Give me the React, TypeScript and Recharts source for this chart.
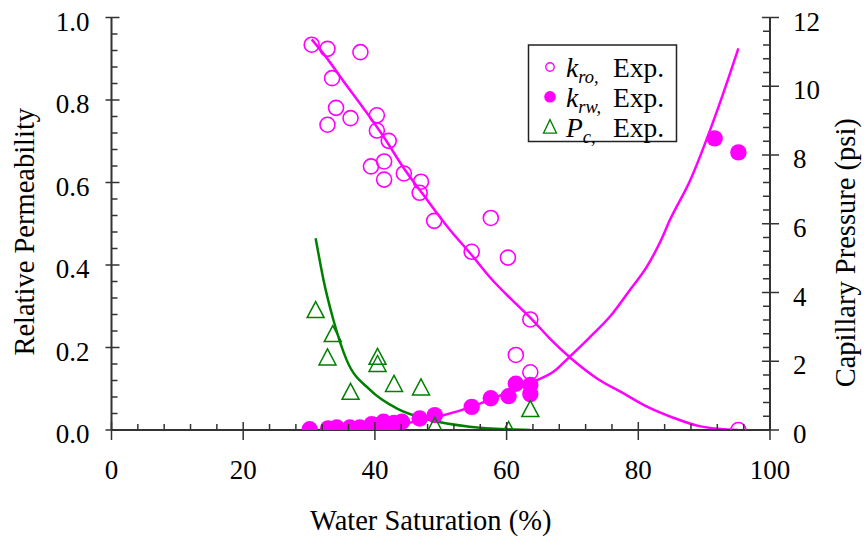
import { ComposedChart, Scatter, Line, XAxis, YAxis } from 'recharts';

const MAGENTA = '#ff00ff';
const GREEN = '#008000';
const AXIS = '#333333';
const FONT = '"Liberation Serif", "Times New Roman", serif';

// kro, experimental (open circles)
const KRO_SW = [30.4, 32.8, 37.8, 33.5, 34.1, 36.3, 32.8, 40.3, 40.3, 42.1, 41.4, 39.4, 41.4, 44.4, 47.0, 46.8, 49.0, 54.7, 57.6, 60.2, 63.6, 61.4, 63.6, 95.2];
const KRO_EXP = [0.934, 0.924, 0.916, 0.853, 0.781, 0.756, 0.740, 0.763, 0.726, 0.701, 0.651, 0.639, 0.607, 0.622, 0.602, 0.575, 0.507, 0.432, 0.514, 0.418, 0.268, 0.182, 0.140, 0.0];

// krw, experimental (filled circles)
const KRW_SW = [30.1, 32.9, 34.2, 36.2, 37.7, 39.5, 40.6, 41.3, 42.6, 42.9, 44.1, 46.8, 49.1, 54.7, 57.6, 60.3, 61.4, 63.6, 63.6, 91.6, 95.2];
const KRW_EXP = [0.002, 0.004, 0.006, 0.006, 0.006, 0.014, 0.012, 0.020, 0.012, 0.017, 0.020, 0.028, 0.036, 0.056, 0.077, 0.082, 0.112, 0.109, 0.087, 0.707, 0.673];

// Pc, experimental (triangles, psi)
const PC_SW = [31.0, 33.6, 32.8, 40.4, 40.4, 36.3, 42.9, 47.0, 49.1, 60.3, 63.6];
const PC_EXP = [3.49, 2.79, 2.11, 2.13, 1.92, 1.11, 1.34, 1.24, 0.12, 0.0, 0.61];

// fitted curves
const KRO_FIT_SW = [30.4, 32.3, 35.4, 38.4, 41.4, 44.5, 47.5, 51.1, 54.6, 57.7, 60.7, 63.8, 66.8, 69.9, 73.9, 77.5, 81.0, 85.1, 89.1, 92.0, 95.2];
const KRO_FIT = [0.947, 0.910, 0.842, 0.777, 0.709, 0.632, 0.567, 0.491, 0.426, 0.366, 0.317, 0.269, 0.218, 0.172, 0.123, 0.091, 0.059, 0.031, 0.010, 0.003, 0.0];

const KRW_FIT_SW = [30, 35, 40, 45, 50, 55, 60, 64.5, 67.1, 69.6, 72.7, 75.7, 78.7, 81.3, 83.3, 84.8, 87.9, 90.9, 92.9, 95.2];
const KRW_FIT = [0, 0.002, 0.007, 0.017, 0.034, 0.058, 0.09, 0.12, 0.141, 0.178, 0.226, 0.275, 0.339, 0.396, 0.455, 0.509, 0.606, 0.727, 0.816, 0.925];

const PC_FIT_SW = [31.0, 31.6, 32.2, 33.7, 35.7, 39.3, 43.3, 48.4, 54.4, 60.0, 63.6];
const PC_FIT = [5.58, 4.95, 4.36, 3.2, 2.04, 1.16, 0.63, 0.29, 0.096, 0.02, 0.0];

const SW_TICKS = [0, 20, 40, 60, 80, 100];
const KR_TICKS = [0, 0.2, 0.4, 0.6, 0.8, 1.0];
const PC_TICKS = [0, 2, 4, 6, 8, 10, 12];

const zip = (xs: number[], ys: number[]) => xs.map((x, i) => ({ x, y: ys[i] }));

const kroExp = zip(KRO_SW, KRO_EXP);
const krwExp = zip(KRW_SW, KRW_EXP);
const pcExp = zip(PC_SW, PC_EXP);
const kroFit = zip(KRO_FIT_SW, KRO_FIT);
const krwFit = zip(KRW_FIT_SW, KRW_FIT);
const pcFit = zip(PC_FIT_SW, PC_FIT);

// majors plus 4 minor ticks between each pair
function withMinors(majors: number[]) {
  const step = (majors[1] - majors[0]) / 5;
  const out: number[] = [];
  const n = Math.round((majors[majors.length - 1] - majors[0]) / step);
  for (let i = 0; i <= n; i++) out.push(+(majors[0] + i * step).toFixed(4));
  return out;
}
const isMajor = (majors: number[], v: number) => majors.some(m => Math.abs(m - v) < 1e-6);

const textStyle = { fontSize: 27, fontFamily: FONT, fill: '#000' };

const BottomTick = ({ x, y, payload }: any) => {
  const v = payload.value;
  if (!isMajor(SW_TICKS, v)) return <line x1={x} x2={x} y1={y} y2={y - 6} stroke={AXIS} strokeWidth={1.5} />;
  return (
    <g>
      <line x1={x} x2={x} y1={y - 8} y2={y + 10} stroke={AXIS} strokeWidth={1.5} />
      <text x={x} y={y + 49} textAnchor="middle" style={textStyle}>{v}</text>
    </g>
  );
};

const LeftTick = ({ x, y, payload }: any) => {
  const v = payload.value;
  if (!isMajor(KR_TICKS, v)) return <line x1={x} x2={x + 6} y1={y} y2={y} stroke={AXIS} strokeWidth={1.5} />;
  return (
    <g>
      <line x1={x - 6} x2={x + 8} y1={y} y2={y} stroke={AXIS} strokeWidth={1.5} />
      <text x={x - 22} y={y + 13} textAnchor="end" style={textStyle}>{v.toFixed(1)}</text>
    </g>
  );
};

const RightTick = ({ x, y, payload }: any) => {
  const v = payload.value;
  if (!isMajor(PC_TICKS, v)) return <line x1={x} x2={x - 7} y1={y} y2={y} stroke={AXIS} strokeWidth={1.5} />;
  return (
    <g>
      <line x1={x - 8} x2={x + 9} y1={y} y2={y} stroke={AXIS} strokeWidth={1.5} />
      <text x={x + 23} y={y + 13} textAnchor="start" style={textStyle}>{v}</text>
    </g>
  );
};

const OpenCircle = ({ cx, cy }: any) => (
  <circle cx={cx} cy={cy} r={7.5} fill="none" stroke={MAGENTA} strokeWidth={1.6} />
);
const FilledCircle = ({ cx, cy }: any) => <circle cx={cx} cy={cy} r={8.2} fill={MAGENTA} />;
const Triangle = ({ cx, cy }: any) => (
  <path d={`M${cx},${cy - 8.5}L${cx + 8.5},${cy + 7.5}L${cx - 8.5},${cy + 7.5}Z`} fill="none" stroke={GREEN} strokeWidth={1.5} />
);

const titleStyle = { fontSize: 28.5, fontFamily: FONT, fill: '#000' };

const xTitle = ({ viewBox }: any) => (
  <text x={viewBox.x + viewBox.width / 2 - 10} y={530} textAnchor="middle" style={titleStyle}>Water Saturation (%)</text>
);
const leftTitle = ({ viewBox }: any) => {
  const cy = viewBox.y + viewBox.height / 2 + 8;
  return (
    <text x={24} y={cy} transform={`rotate(-90, 24, ${cy})`} textAnchor="middle" dominantBaseline="central" style={titleStyle}>
      Relative Permeability
    </text>
  );
};
const rightTitle = ({ viewBox }: any) => {
  const cy = viewBox.y + viewBox.height / 2 + 29;
  return (
    <text x={845} y={cy} transform={`rotate(-90, 845, ${cy})`} textAnchor="middle" dominantBaseline="central" style={titleStyle}>
      Capillary Pressure (psi)
    </text>
  );
};

const LEGEND = [
  { symbol: 'open', main: 'k', sub: 'ro,' },
  { symbol: 'filled', main: 'k', sub: 'rw,' },
  { symbol: 'triangle', main: 'P', sub: 'c,' },
];

function LegendBox() {
  return (
    <svg width={864} height={538} style={{ position: 'absolute', left: 0, top: 0, pointerEvents: 'none' }}>
      <rect x={528.5} y={45} width={148} height={96.5} fill="#fff" stroke="#222" strokeWidth={1.5} />
      {LEGEND.map((item, i) => {
        const cy = 67 + i * 29.8;
        const base = cy + 10;
        return (
          <g key={i}>
            {item.symbol === 'open' && <circle cx={550} cy={cy} r={4.2} fill="none" stroke={MAGENTA} strokeWidth={1.4} />}
            {item.symbol === 'filled' && <circle cx={550} cy={cy} r={5.8} fill={MAGENTA} />}
            {item.symbol === 'triangle' && (
              <path d={`M550,${cy - 7}L556.5,${cy + 6.5}L543.5,${cy + 6.5}Z`} fill="none" stroke={GREEN} strokeWidth={1.3} />
            )}
            <text x={566} y={base} style={{ fontFamily: FONT, fontSize: 27.5, fill: '#000' }}>
              <tspan fontStyle="italic">{item.main}</tspan>
              <tspan fontStyle="italic" fontSize={18.5} dy={6}>{item.sub}</tspan>
            </text>
            <text x={613} y={base} style={{ fontFamily: FONT, fontSize: 27.5, fill: '#000' }}>Exp.</text>
          </g>
        );
      })}
    </svg>
  );
}

export default function App() {
  return (
    <div style={{ position: 'absolute', left: 0, top: 0, width: 864, height: 538, background: '#fff', fontFamily: FONT }}>
      <ComposedChart width={864} height={538} margin={{ top: 17.5, right: 0, bottom: 0, left: 0 }}>
        <XAxis
          type="number"
          dataKey="x"
          domain={[0, 100]}
          ticks={withMinors(SW_TICKS)}
          interval={0}
          height={108}
          tickSize={0}
          tickMargin={0}
          tickLine={false}
          axisLine={{ stroke: AXIS, strokeWidth: 2 }}
          tick={(p: any) => <BottomTick {...p} />}
          label={xTitle}
          allowDataOverflow
        />
        <YAxis
          yAxisId="kr"
          orientation="left"
          type="number"
          domain={[0, 1]}
          ticks={withMinors(KR_TICKS)}
          interval={0}
          width={111.5}
          tickSize={0}
          tickMargin={0}
          tickLine={false}
          axisLine={{ stroke: AXIS, strokeWidth: 2 }}
          tick={(p: any) => <LeftTick {...p} />}
          label={leftTitle}
          allowDataOverflow
        />
        <YAxis
          yAxisId="pc"
          orientation="right"
          type="number"
          domain={[0, 12]}
          ticks={withMinors(PC_TICKS)}
          interval={0}
          width={94}
          tickSize={0}
          tickMargin={0}
          tickLine={false}
          axisLine={{ stroke: AXIS, strokeWidth: 2 }}
          tick={(p: any) => <RightTick {...p} />}
          label={rightTitle}
          allowDataOverflow
        />
        <Scatter data={kroExp} dataKey="y" yAxisId="kr" shape={OpenCircle} isAnimationActive={false} />
        <Scatter data={krwExp} dataKey="y" yAxisId="kr" shape={FilledCircle} isAnimationActive={false} />
        <Scatter data={pcExp} dataKey="y" yAxisId="pc" shape={Triangle} isAnimationActive={false} />
        <Line data={pcFit} dataKey="y" yAxisId="pc" type="monotone" dot={false} activeDot={false} stroke={GREEN} strokeWidth={2.5} isAnimationActive={false} />
        <Line data={kroFit} dataKey="y" yAxisId="kr" type="monotone" dot={false} activeDot={false} stroke={MAGENTA} strokeWidth={2.5} isAnimationActive={false} />
        <Line data={krwFit} dataKey="y" yAxisId="kr" type="monotone" dot={false} activeDot={false} stroke={MAGENTA} strokeWidth={2.5} isAnimationActive={false} />
      </ComposedChart>
      <LegendBox />
    </div>
  );
}
